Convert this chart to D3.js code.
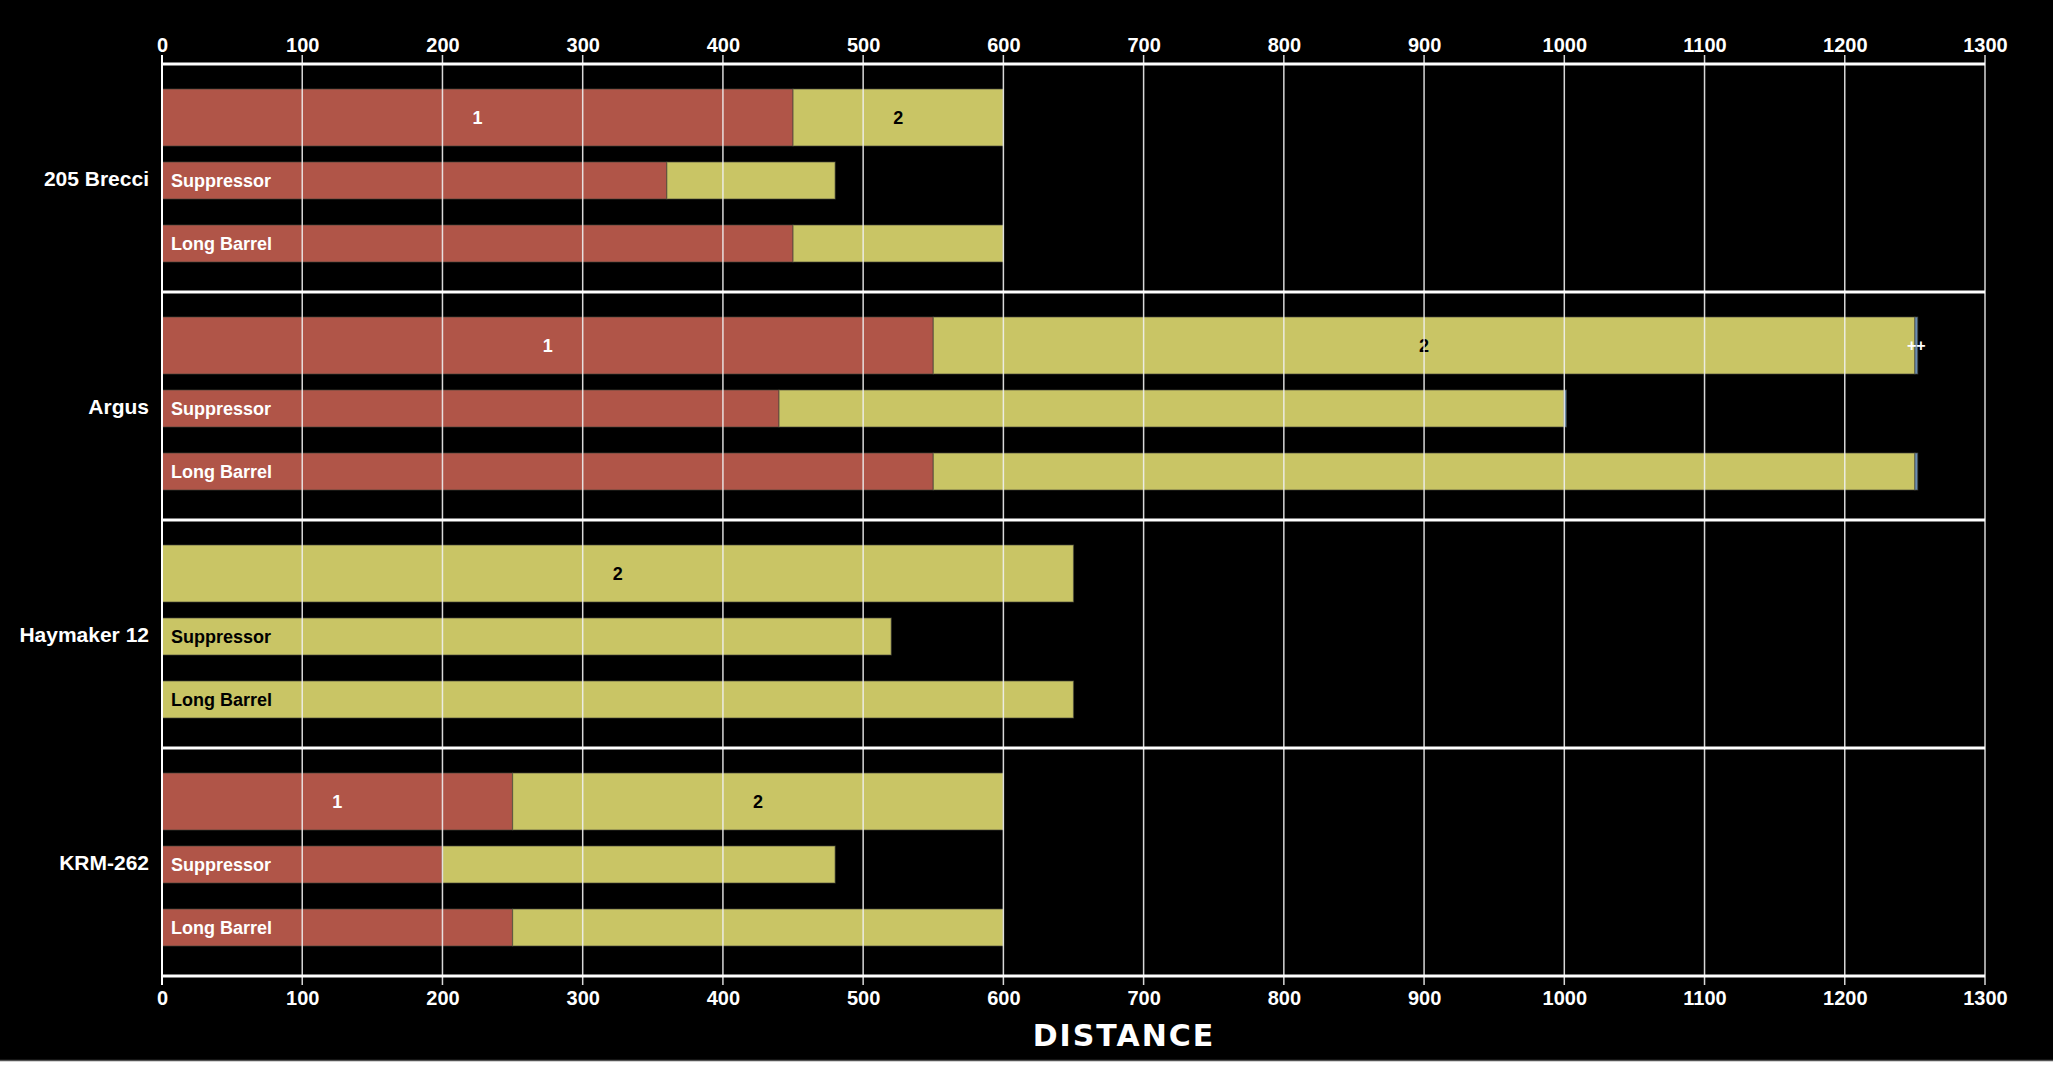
<!DOCTYPE html>
<html>
<head>
<meta charset="utf-8">
<script src="https://cdn.jsdelivr.net/npm/d3@7"></script>
<style>
  html, body { margin: 0; padding: 0; background: #ffffff; }
  svg { display: block; }
</style>
</head>
<body>
<svg id="chart" width="2053" height="1074"></svg>
<script>
// ---- data ----
const groups = ["205 Brecci", "Argus", "Haymaker 12", "KRM-262"];
const rows = ["main", "Suppressor", "Long Barrel"];
// stage 1 (red), stage 2 (yellow), stage 3 (blue "++") per group per row
const stage1 = [
  [450, 360, 450],
  [550, 440, 550],
  [0, 0, 0],
  [250, 200, 250]
];
const stage2 = [
  [150, 120, 150],
  [700, 560, 700],
  [650, 520, 650],
  [350, 280, 350]
];
const stage3 = [
  [0, 0, 0],
  [2, 1.5, 2],
  [0, 0, 0],
  [0, 0, 0]
];
const stageNames = ["1", "2", "++"];
const xTicks = [0, 100, 200, 300, 400, 500, 600, 700, 800, 900, 1000, 1100, 1200, 1300];
const axisTitle = "DISTANCE";

// ---- layout ----
const W = 2053, BH = 1060;
const mLeft = 162, mRight = 1985, mTop = 64, mBottom = 976;
const colors = ["#b05548", "#c9c565", "#6a8db3"];
const mainH = 57, subH = 37;

const svg = d3.select("#chart");
svg.append("rect").attr("x", 0).attr("y", 0).attr("width", W).attr("height", BH).attr("fill", "#000");
svg.append("line").attr("x1", 0).attr("x2", W).attr("y1", BH + 0.5).attr("y2", BH + 0.5)
  .attr("stroke", "#555").attr("stroke-width", 1.5);

const x = d3.scaleLinear().domain([0, 1300]).range([mLeft, mRight]);
const y = d3.scaleBand().domain(groups).range([mTop, mBottom]).padding(0);
const yIn = d3.scalePoint().domain(rows).range([53.5, 179.5]);

// bars
const gBars = svg.append("g");
groups.forEach((g, gi) => {
  const gTop = y(g);
  rows.forEach((r, ri) => {
    const h = ri === 0 ? mainH : subH;
    const cy = gTop + yIn(r);
    const vals = [stage1[gi][ri], stage2[gi][ri], stage3[gi][ri]];
    let acc = 0;
    vals.forEach((v, si) => {
      if (v > 0) {
        gBars.append("rect")
          .attr("x", x(acc)).attr("width", x(acc + v) - x(acc))
          .attr("y", cy - h / 2).attr("height", h)
          .attr("fill", colors[si])
          .attr("stroke", "rgba(70,70,60,0.55)").attr("stroke-width", 1.2);
        if (ri === 0) {
          gBars.append("text")
            .attr("x", (x(acc) + x(acc + v)) / 2).attr("y", cy)
            .attr("dy", "0.36em").attr("text-anchor", "middle")
            .attr("font-family", "Liberation Sans, Arial, sans-serif")
            .attr("font-weight", "bold").attr("font-size", si === 2 ? 16 : 18)
            .attr("fill", si === 1 ? "#000" : "#fff")
            .text(stageNames[si]);
        }
      }
      acc += v;
    });
    if (ri > 0) {
      gBars.append("text")
        .attr("x", x(0) + 9).attr("y", cy).attr("dy", "0.36em")
        .attr("font-family", "Liberation Sans, Arial, sans-serif")
        .attr("font-weight", "bold").attr("font-size", 18)
        .attr("fill", stage1[gi][ri] > 0 ? "#fff" : "#000")
        .text(r);
    }
  });
});

// grid lines (on top of bars)
svg.append("g").selectAll("line").data(xTicks).join("line")
  .attr("x1", d => x(d)).attr("x2", d => x(d))
  .attr("y1", mTop - 9).attr("y2", mBottom + 9)
  .attr("stroke", "#f0f0f0").attr("stroke-opacity", 0.9).attr("stroke-width", 1.5);

// group separators and axis lines
svg.append("g").selectAll("line").data(d3.range(groups.length + 1)).join("line")
  .attr("x1", mLeft).attr("x2", mRight)
  .attr("y1", i => mTop + i * y.bandwidth()).attr("y2", i => mTop + i * y.bandwidth())
  .attr("stroke", "#fff").attr("stroke-width", 3);
svg.append("line").attr("x1", mLeft).attr("x2", mLeft).attr("y1", mTop - 9).attr("y2", mBottom + 9)
  .attr("stroke", "#fff").attr("stroke-width", 2);

// axes
const fmt = d3.format("d");
const topAxis = d3.axisTop(x).tickValues(xTicks).tickFormat(fmt).tickSize(0).tickPadding(12);
const botAxis = d3.axisBottom(x).tickValues(xTicks).tickFormat(fmt).tickSize(0).tickPadding(15);
function styleAxis(sel) {
  sel.select(".domain").remove();
  sel.selectAll("text")
    .attr("fill", "#fff")
    .attr("font-family", "Liberation Sans, Arial, sans-serif")
    .attr("font-weight", "bold").attr("font-size", 20);
}
svg.append("g").attr("transform", `translate(0,${mTop})`).call(topAxis).call(styleAxis);
svg.append("g").attr("transform", `translate(0,${mBottom})`).call(botAxis).call(styleAxis);

// group labels
svg.append("g").selectAll("text").data(groups).join("text")
  .attr("x", mLeft - 13).attr("y", d => y(d) + y.bandwidth() / 2).attr("dy", "0.36em")
  .attr("text-anchor", "end")
  .attr("font-family", "Liberation Sans, Arial, sans-serif")
  .attr("font-weight", "bold").attr("font-size", 21).attr("fill", "#fff")
  .text(d => d);

// axis title
svg.append("text")
  .attr("x", 1124).attr("y", 1046).attr("text-anchor", "middle")
  .attr("font-family", "DejaVu Sans, sans-serif")
  .attr("font-weight", "bold").attr("font-size", 30).attr("letter-spacing", 2)
  .attr("fill", "#fff")
  .text(axisTitle);
</script>
</body>
</html>
